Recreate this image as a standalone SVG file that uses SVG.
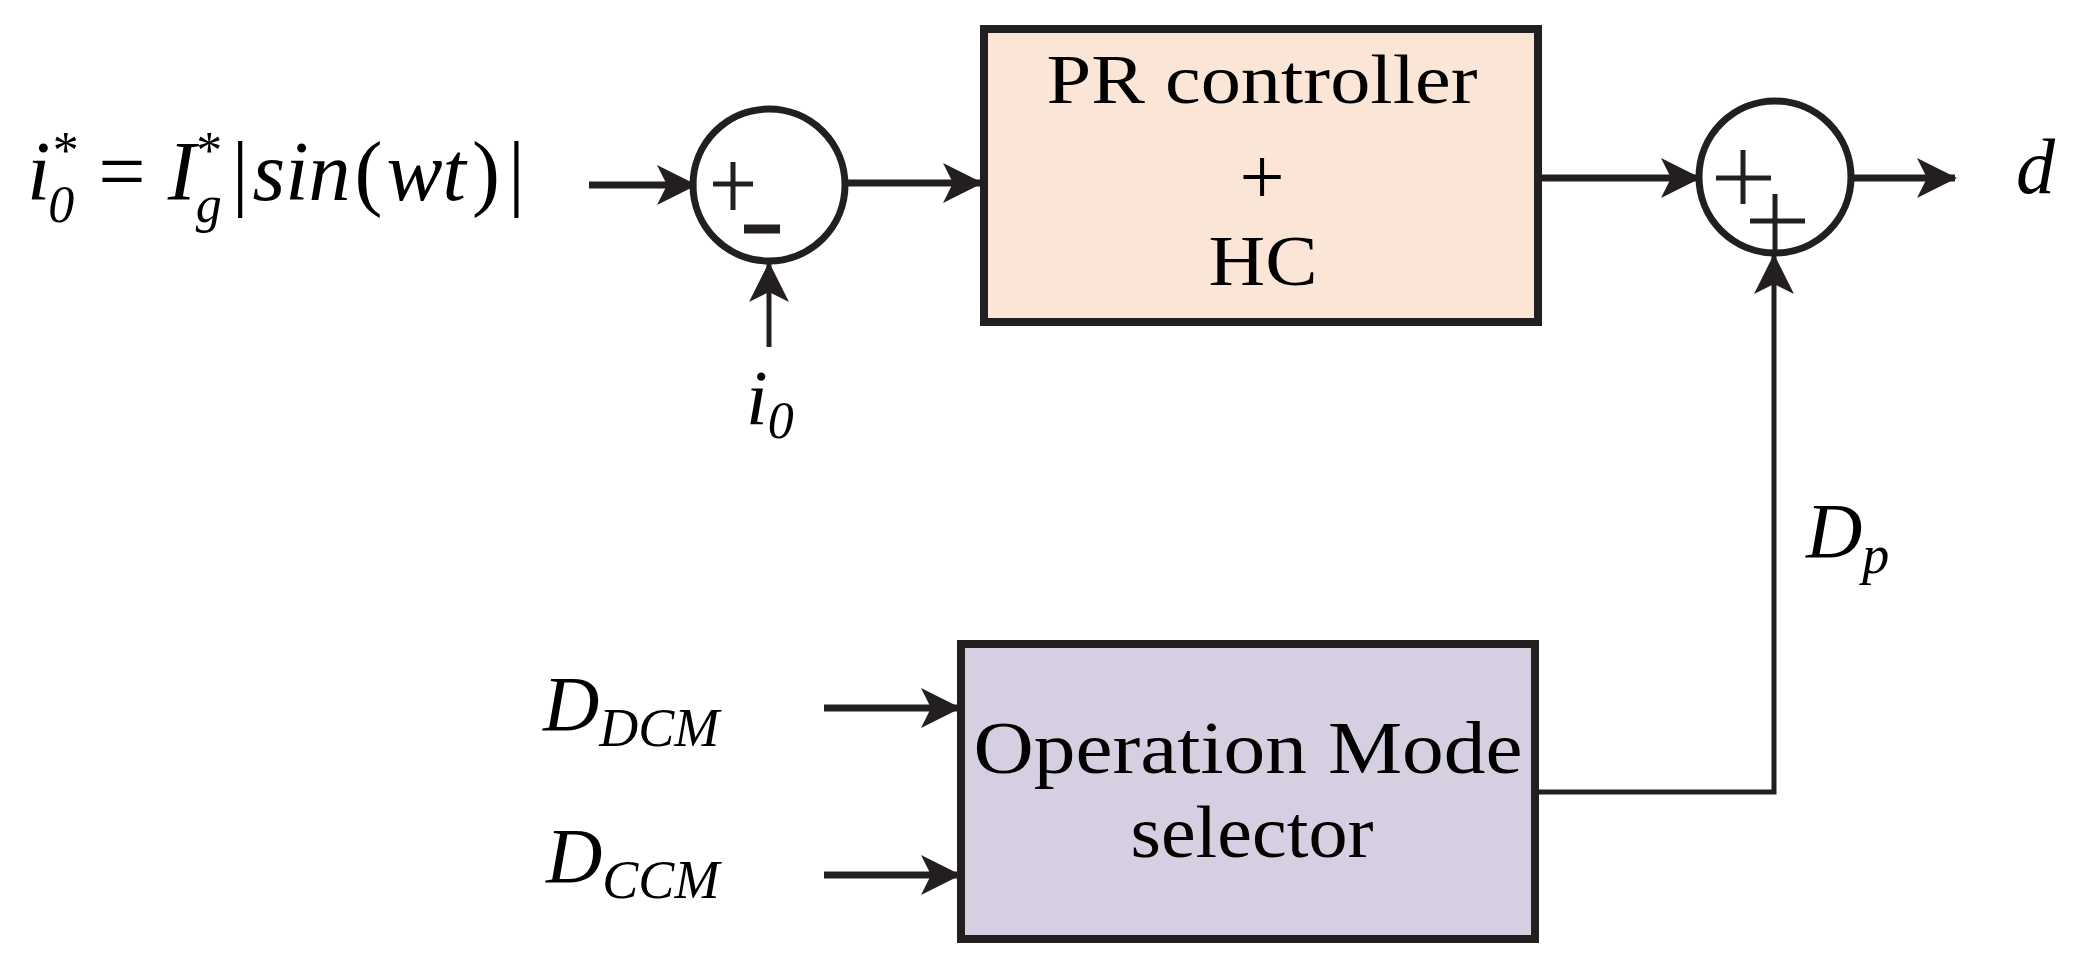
<svg xmlns="http://www.w3.org/2000/svg" width="2079" height="964" viewBox="0 0 2079 964">
<style>
.t{font-family:"Liberation Serif",serif;fill:#000}
.i{font-style:italic}
.ln{stroke:#231f20;stroke-width:7;fill:none}
.thin{stroke:#231f20;stroke-width:5;fill:none}
.box{stroke:#231f20;stroke-width:8}
</style>
<defs>
<marker id="a" viewBox="0 0 40 40" refX="38" refY="20" markerWidth="40" markerHeight="40" markerUnits="userSpaceOnUse" orient="auto">
<path d="M0,0 L40,20 L0,40 L10,20 Z" fill="#231f20"/>
</marker>
</defs>
<g id="connectors">
<line class="ln" x1="589" y1="185" x2="695" y2="185" marker-end="url(#a)"/>
<line class="thin" x1="769" y1="347" x2="769" y2="264" marker-end="url(#a)"/>
<line class="ln" x1="846" y1="183" x2="981" y2="183" marker-end="url(#a)"/>
<line class="ln" x1="1538" y1="178" x2="1699" y2="178" marker-end="url(#a)"/>
<line class="ln" x1="1851" y1="178" x2="1955" y2="178" marker-end="url(#a)"/>
<polyline class="thin" points="1535,792 1774,792 1774,256" marker-end="url(#a)"/>
<line class="ln" x1="824" y1="708" x2="959" y2="708" marker-end="url(#a)"/>
<line class="ln" x1="824" y1="875" x2="959" y2="875" marker-end="url(#a)"/>
</g>
<g id="input-label">
<text class="t i" x="27" y="200" font-size="84">i<tspan font-size="52" dy="22" dx="-2">0</tspan><tspan font-size="52" dy="-54" dx="-24">*</tspan><tspan dy="32" dx="22" font-style="normal">=</tspan><tspan dx="22">I</tspan><tspan font-size="52" dy="-32" dx="-2">*</tspan><tspan font-size="52" dy="54" dx="-24">g</tspan><tspan dy="-22" dx="10" font-style="normal">|</tspan><tspan dx="4">sin</tspan><tspan dx="4" font-style="normal">(</tspan><tspan dx="4">wt</tspan><tspan dx="6" font-style="normal">)</tspan><tspan dx="8" font-style="normal">|</tspan></text>
</g>
<g id="sum1">
<circle cx="769" cy="185" r="76" fill="#fff" class="ln"/>
<path class="thin" d="M713,184 h40 M733,162 v48"/>
<path d="M744,229 h36" stroke="#231f20" stroke-width="9"/>
</g>
<g id="io-label"><text class="t i" x="746" y="424" font-size="78">i<tspan font-size="52" dy="14">0</tspan></text></g>
<g id="pr">
<rect class="box" x="984" y="29" width="554" height="293" fill="#fbe5d6"/>
<text class="t" x="1262" y="103" font-size="70" text-anchor="middle" textLength="431" lengthAdjust="spacingAndGlyphs">PR controller</text>
<text class="t" x="1262" y="204" font-size="80" text-anchor="middle">+</text>
<text class="t" x="1263" y="285" font-size="72" text-anchor="middle" textLength="109" lengthAdjust="spacingAndGlyphs">HC</text>
</g>
<g id="sum2">
<circle cx="1775" cy="177" r="76" fill="#fff" class="ln"/>
<path class="thin" d="M1716,178 h55 M1743,150 v54 M1750,221 h55 M1775,194 v56"/>
</g>
<g id="d-label"><text class="t i" x="2016" y="193" font-size="78">d</text></g>
<g id="dp-label"><text class="t i" x="1806" y="557" font-size="78">D<tspan font-size="54" dy="16">p</tspan></text></g>
<g id="dcm-label"><text class="t i" x="543" y="730" font-size="78">D<tspan font-size="54" dy="16">DCM</tspan></text></g>
<g id="ccm-label"><text class="t i" x="546" y="882" font-size="78">D<tspan font-size="54" dy="16">CCM</tspan></text></g>
<g id="selector">
<rect class="box" x="961" y="644" width="574" height="295" fill="#d5cfe1"/>
<text class="t" x="1248" y="773" font-size="74" text-anchor="middle" textLength="549" lengthAdjust="spacingAndGlyphs">Operation Mode</text>
<text class="t" x="1252" y="857" font-size="74" text-anchor="middle" textLength="243" lengthAdjust="spacingAndGlyphs">selector</text>
</g>
</svg>
